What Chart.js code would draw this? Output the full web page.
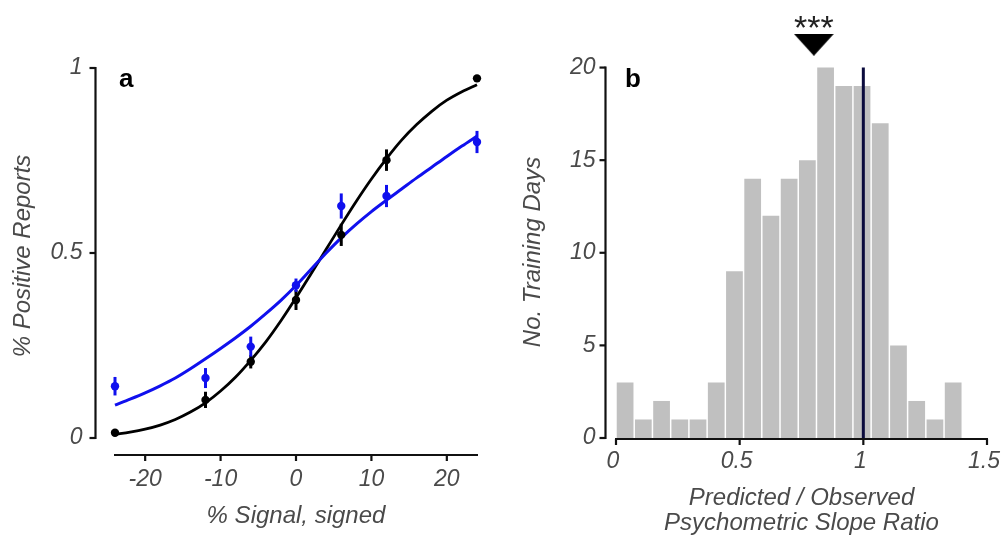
<!DOCTYPE html>
<html><head><meta charset="utf-8">
<script src="https://cdn.jsdelivr.net/npm/chart.js@4.4.0/dist/chart.umd.min.js"></script>
<style>
html,body{margin:0;padding:0;background:#fff;width:1001px;height:541px;overflow:hidden;}
#wrapA{position:absolute;left:0;top:0;width:500px;height:541px;}
#wrapB{position:absolute;left:500px;top:0;width:501px;height:541px;}
canvas{display:block;}
</style></head><body>
<div id="wrapA"><canvas id="chartA" width="500" height="541"></canvas></div>
<div id="wrapB"><canvas id="chartB" width="501" height="541"></canvas></div>
<script>
// ---------- Panel a data ----------
const signalLevels = [-24, -12, -6, 0, 6, 12, 24];
const blackMean = [0.014, 0.103, 0.206, 0.373, 0.549, 0.751, 0.972];
const blackErr  = [0.006, 0.022, 0.018, 0.027, 0.030, 0.029, 0.008];
const blueMean  = [0.140, 0.162, 0.247, 0.413, 0.627, 0.654, 0.800];
const blueErr   = [0.025, 0.027, 0.027, 0.018, 0.034, 0.030, 0.030];
const curveX    = [-24,-22,-20,-18,-16,-14,-12,-10,-8,-6,-4,-2,0,2,4,6,8,10,12,14,16,18,20,22,24];
const blackFit  = [0.010,0.016,0.024,0.035,0.050,0.070,0.095,0.127,0.165,0.210,0.260,0.317,0.379,0.444,0.510,0.576,0.640,0.700,0.755,0.805,0.847,0.883,0.913,0.936,0.955];
const blueFit   = [0.089,0.105,0.122,0.141,0.162,0.187,0.214,0.242,0.271,0.302,0.336,0.372,0.412,0.456,0.500,0.541,0.578,0.612,0.643,0.673,0.703,0.732,0.761,0.789,0.816];
const aXTicks = [-20, -10, 0, 10, 20];
const aXTickLabels = ['-20', '-10', '0', '10', '20'];
const aYTicks = [0, 0.5, 1];
const aYTickLabels = ['0', '0.5', '1'];

// ---------- Panel b data ----------
const binCenters = [0.0368,0.1105,0.1842,0.2579,0.3316,0.4053,0.4789,0.5526,0.6263,0.7000,0.7737,0.8474,0.9211,0.9947,1.0684,1.1421,1.2158,1.2895,1.3632];
const dayCounts  = [3,1,2,1,1,3,9,14,12,14,15,20,19,19,17,5,2,1,3];
const unityRatio = 1;
const medianRatio = 0.8;
const bXTicks = [0, 0.5, 1, 1.5];
const bXTickLabels = ['0', '0.5', '1', '1.5'];
const bYTicks = [0, 5, 10, 15, 20];
const bYTickLabels = ['0', '5', '10', '15', '20'];

const FONT = '"Liberation Sans", Arial, Helvetica, sans-serif';
const TXT = '#4a4a4a';

function axesPlugin(cfg) {
  return {
    id: 'axes' + cfg.id,
    afterDraw(chart) {
      const ctx = chart.ctx, xs = chart.scales.x, ys = chart.scales.y;
      ctx.save();
      ctx.strokeStyle = '#111';
      ctx.lineWidth = 2.2;
      ctx.lineCap = 'butt';
      // y axis
      const yx = xs.left - cfg.yOffset;
      const yTop = ys.getPixelForValue(cfg.yTicks[cfg.yTicks.length - 1]);
      const yBot = ys.getPixelForValue(cfg.yTicks[0]);
      ctx.beginPath(); ctx.moveTo(yx, yTop - 1); ctx.lineTo(yx, yBot + 1); ctx.stroke();
      ctx.fillStyle = TXT;
      ctx.font = 'italic 23px ' + FONT;
      ctx.textAlign = 'right'; ctx.textBaseline = 'middle';
      cfg.yTicks.forEach((t, i) => {
        const py = ys.getPixelForValue(t);
        ctx.beginPath(); ctx.moveTo(yx, py); ctx.lineTo(yx - 6, py); ctx.stroke();
        ctx.fillText(cfg.yLabels[i], yx - cfg.yLabelGap, py);
      });
      // x axis
      const xy = ys.getPixelForValue(cfg.yTicks[0]) + cfg.xOffset;
      const xl = xs.getPixelForValue(cfg.xMin), xr = xs.getPixelForValue(cfg.xMax);
      ctx.beginPath(); ctx.moveTo(xl - 1, xy); ctx.lineTo(xr + 1, xy); ctx.stroke();
      ctx.textAlign = 'center'; ctx.textBaseline = 'middle';
      cfg.xTicks.forEach((t, i) => {
        const px = xs.getPixelForValue(t);
        ctx.beginPath(); ctx.moveTo(px, xy); ctx.lineTo(px, xy + 6); ctx.stroke();
        ctx.fillText(cfg.xLabels[i], px + cfg.xLabelShift, xy + cfg.xLabelGap);
      });
      // titles
      ctx.font = 'italic 24px ' + FONT;
      ctx.textBaseline = 'alphabetic';
      const cx = (xs.getPixelForValue(cfg.xMin) + xs.getPixelForValue(cfg.xMax)) / 2;
      cfg.xTitle.forEach((line, i) => ctx.fillText(line, cx, cfg.xTitleY[i]));
      ctx.save();
      ctx.translate(cfg.yTitleX, cfg.yTitleY);
      ctx.rotate(-Math.PI / 2);
      ctx.textBaseline = 'middle';
      ctx.fillText(cfg.yTitle, 0, 0);
      ctx.restore();
      // panel letter
      ctx.fillStyle = '#000';
      ctx.font = 'bold 26px ' + FONT;
      ctx.textAlign = 'left'; ctx.textBaseline = 'alphabetic';
      ctx.fillText(cfg.letter, cfg.letterX, cfg.letterY);
      if (cfg.extra) cfg.extra(chart, ctx);
      ctx.restore();
    }
  };
}

// error bars, drawn just before each point dataset
const errorBarPlugin = {
  id: 'errbars',
  beforeDatasetDraw(chart, args) {
    const ds = chart.data.datasets[args.index];
    if (!ds.errors) return;
    const ctx = chart.ctx, xs = chart.scales.x, ys = chart.scales.y;
    ctx.save();
    ctx.strokeStyle = ds.backgroundColor;
    ctx.lineWidth = 3;
    ds.data.forEach((p, i) => {
      const px = xs.getPixelForValue(p.x);
      ctx.beginPath();
      ctx.moveTo(px, ys.getPixelForValue(p.y - ds.errors[i]));
      ctx.lineTo(px, ys.getPixelForValue(p.y + ds.errors[i]));
      ctx.stroke();
    });
    ctx.restore();
  }
};

const BLUE = '#1010ee';
const pts = (xsArr, ysArr) => xsArr.map((x, i) => ({ x, y: ysArr[i] }));

new Chart(document.getElementById('chartA'), {
  type: 'scatter',
  data: {
    datasets: [
      { type: 'scatter', data: pts(signalLevels, blueMean), errors: blueErr, backgroundColor: BLUE, borderColor: BLUE, pointRadius: 4.2, borderWidth: 0, clip: false, order: 0 },
      { type: 'scatter', data: pts(signalLevels, blackMean), errors: blackErr, backgroundColor: '#000', borderColor: '#000', pointRadius: 4.2, borderWidth: 0, clip: false, order: 1 },
      { type: 'line', data: pts(curveX, blueFit), borderColor: BLUE, borderWidth: 3, pointRadius: 0, cubicInterpolationMode: 'monotone', fill: false, clip: false, order: 2 },
      { type: 'line', data: pts(curveX, blackFit), borderColor: '#000', borderWidth: 2.8, pointRadius: 0, cubicInterpolationMode: 'monotone', fill: false, clip: false, order: 3 }
    ]
  },
  options: {
    responsive: false, animation: false, events: [],
    layout: { padding: { left: 115, right: 23, top: 68, bottom: 103 } },
    plugins: { legend: { display: false }, tooltip: { enabled: false } },
    scales: {
      x: { type: 'linear', min: -24, max: 24, display: false },
      y: { type: 'linear', min: 0, max: 1, display: false }
    }
  },
  plugins: [errorBarPlugin, axesPlugin({
    id: 'A', yOffset: 19.5, xOffset: 17, xLabelGap: 25, xLabelShift: 0, yLabelGap: 13,
    yTicks: aYTicks, yLabels: aYTickLabels, xTicks: aXTicks, xLabels: aXTickLabels,
    xMin: -24, xMax: 24,
    xTitle: ['% Signal, signed'], xTitleY: [523],
    yTitle: '% Positive Reports', yTitleX: 23, yTitleY: 256,
    letter: 'a', letterX: 119, letterY: 87
  })]
});

// flat downward triangle marker
const tri = document.createElement('canvas');
tri.width = 40; tri.height = 22;
(function () {
  const c = tri.getContext('2d');
  c.fillStyle = '#000';
  c.beginPath(); c.moveTo(0, 0); c.lineTo(40, 0); c.lineTo(20, 22); c.closePath(); c.fill();
})();

// y range extends above 20 so the marker above the histogram lies inside the chart area
const bYMax = 23;
new Chart(document.getElementById('chartB'), {
  type: 'bar',
  data: {
    datasets: [
      { type: 'scatter', data: [{ x: medianRatio, y: 21.23 }], pointStyle: tri, pointRadius: 11, clip: false, order: 0 },
      { type: 'line', data: [{ x: unityRatio, y: 0 }, { x: unityRatio, y: 20 }], borderColor: '#0b0b3d', borderWidth: 3, pointRadius: 0, clip: false, order: 1 },
      { type: 'bar', data: pts(binCenters, dayCounts), backgroundColor: '#c0c0c0', borderWidth: 0, barPercentage: 0.92, categoryPercentage: 1, order: 2 }
    ]
  },
  options: {
    responsive: false, animation: false, events: [],
    layout: { padding: { left: 116, right: 14, top: 11.35, bottom: 103 } },
    plugins: { legend: { display: false }, tooltip: { enabled: false } },
    scales: {
      x: { type: 'linear', min: 0, max: 1.5, offset: false, display: false, ticks: { stepSize: 0.5 } },
      y: { type: 'linear', min: 0, max: bYMax, display: false, ticks: { stepSize: 5 } }
    }
  },
  plugins: [axesPlugin({
    id: 'B', yOffset: 10.5, xOffset: 1, xLabelGap: 23, xLabelShift: -3, yLabelGap: 10,
    yTicks: bYTicks, yLabels: bYTickLabels, xTicks: bXTicks, xLabels: bXTickLabels,
    xMin: 0, xMax: 1.5,
    xTitle: ['Predicted / Observed', 'Psychometric Slope Ratio'], xTitleY: [505, 530],
    yTitle: 'No. Training Days', yTitleX: 33, yTitleY: 252,
    letter: 'b', letterX: 125, letterY: 87,
    extra(chart, ctx) {
      const px = chart.scales.x.getPixelForValue(medianRatio);
      ctx.fillStyle = '#222';
      ctx.font = '34px ' + FONT;
      ctx.textAlign = 'center';
      ctx.textBaseline = 'alphabetic';
      ctx.fillText('***', px, 39);
    }
  })]
});
</script>
</body></html>
